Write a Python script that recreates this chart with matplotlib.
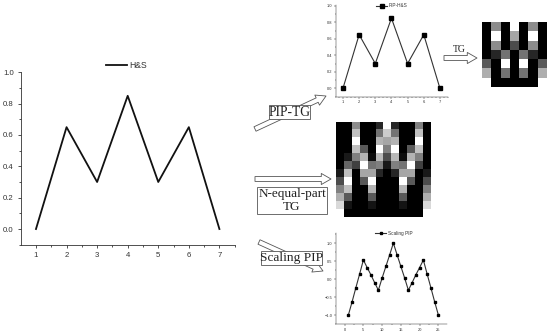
import matplotlib
matplotlib.use('Agg')
import matplotlib.pyplot as plt
from matplotlib.patches import FancyArrowPatch, Rectangle
from matplotlib.ticker import MultipleLocator

plt.rcParams['font.family'] = ['Liberation Sans', 'DejaVu Sans']

hs_x = [1, 2, 3, 4, 5, 6, 7]
hs_y = [0.0, 0.65, 0.3, 0.85, 0.3, 0.65, 0.0]
pip_y = [0.0, 0.65, 0.3, 0.85, 0.3, 0.65, 0.0]

scaling_x = list(range(1, 26))
scaling_y = [-1.0, -0.63, -0.24, 0.14, 0.53, 0.32, 0.12, -0.1, -0.31, 0.03, 0.35, 0.67, 1.0,
             0.67, 0.35, 0.03, -0.31, -0.1, 0.12, 0.32, 0.53, 0.14, -0.24, -0.63, -1.0]

# gray levels, 0 black and 1 white
tg_small = [
    [0, 0.55, 0, 1, 0, 0.55, 0],
    [0, 1, 0, 0.65, 0, 1, 0],
    [0, 0.55, 0, 0.3, 0, 0.55, 0],
    [0, 0.15, 0.45, 0, 0.45, 0.15, 0],
    [0.35, 0, 1, 0, 1, 0, 0.35],
    [0.68, 0, 0.45, 0, 0.45, 0, 0.68],
    [1, 0, 0, 0, 0, 0, 1],
]
tg_large = [
    [0, 0, 0.55, 0, 0, 0.15, 1, 0.15, 0, 0, 0.5, 0],
    [0, 0, 0.75, 0, 0, 0.45, 0.8, 0.45, 0, 0, 0.75, 0],
    [0, 0, 1, 0, 0, 0.7, 0.65, 0.7, 0, 0, 1, 0],
    [0, 0, 0.75, 0.35, 0, 1, 0.5, 1, 0, 0.35, 0.75, 0],
    [0, 0.1, 0.5, 0.7, 0.05, 0.72, 0.3, 0.72, 0.05, 0.7, 0.5, 0],
    [0, 0.4, 0.25, 1, 0.45, 0.5, 0.1, 0.5, 0.45, 1, 0.25, 0],
    [0.1, 0.75, 0, 0.65, 0.65, 0.15, 0, 0.15, 0.65, 0.65, 0, 0.1],
    [0.3, 1, 0, 0.35, 1, 0, 0, 0, 1, 0.35, 0, 0.3],
    [0.5, 0.75, 0, 0, 0.7, 0, 0, 0, 0.7, 0, 0, 0.5],
    [0.68, 0.35, 0, 0, 0.35, 0, 0, 0, 0.35, 0, 0, 0.68],
    [0.85, 0.08, 0, 0, 0.08, 0, 0, 0, 0.08, 0, 0, 0.85],
    [1, 0, 0, 0, 0, 0, 0, 0, 0, 0, 0, 1],
]

W = 550
H = 335
INK = '#333333'

fig = plt.figure(figsize=(W / 100, H / 100), dpi=100)


def px_axes(left, top, right, bottom):
    return fig.add_axes([left / W, 1 - bottom / H, (right - left) / W, (bottom - top) / H])


def style_chart(ax, xlim, ylim, tick_size, tick_len, lw, pad):
    ax.set_xlim(xlim)
    ax.set_ylim(ylim)
    ax.spines['top'].set_visible(False)
    ax.spines['right'].set_visible(False)
    ax.spines['left'].set_linewidth(lw)
    ax.spines['left'].set_color(INK)
    ax.spines['bottom'].set_linewidth(lw)
    ax.spines['bottom'].set_color(INK)
    ax.tick_params(which='major', labelsize=tick_size, length=tick_len, width=lw, color=INK,
                   labelcolor=INK, pad=pad)
    ax.tick_params(which='minor', length=tick_len * 0.6, width=lw, color=INK)


# main chart
ax = px_axes(21, 72.3, 235, 245)
ax.plot(hs_x, hs_y, color='#111111', lw=1.3, label='H&S')
style_chart(ax, (0.51, 7.51), (-0.102, 1.0), 5.6, 2.2, 0.6, 3)
ax.xaxis.set_major_locator(MultipleLocator(1))
ax.xaxis.set_minor_locator(MultipleLocator(0.5))
ax.yaxis.set_major_locator(MultipleLocator(0.2))
ax.yaxis.set_minor_locator(MultipleLocator(0.1))
ax.legend(loc='center', bbox_to_anchor=(0.495, 1.04), frameon=False, fontsize=6.2, handlelength=2.4,
          handletextpad=0.3, borderpad=0, labelcolor=INK)

# small chart at the top
ax = px_axes(335.7, 5, 448, 96.7)
ax.plot(hs_x, pip_y, color='#333333', lw=0.8, marker='s', ms=3.1, mfc='black', mec='black', label='PIP-H&S')
style_chart(ax, (0.55, 7.5), (-0.102, 1.01), 2.9, 1.2, 0.35, 1.5)
ax.xaxis.set_major_locator(MultipleLocator(1))
ax.xaxis.set_minor_locator(MultipleLocator(0.25))
ax.yaxis.set_major_locator(MultipleLocator(0.2))
ax.yaxis.set_minor_locator(MultipleLocator(0.1))
ax.legend(loc='center', bbox_to_anchor=(0.5, 0.99), frameon=False, fontsize=3.4, handlelength=2.4,
          handletextpad=0.3, borderpad=0, labelcolor=INK)

# small chart at the bottom
ax = px_axes(336, 233, 447, 324)
ax.plot(scaling_x, scaling_y, color='#333333', lw=0.8, marker='s', ms=2, mfc='black', mec='black',
        label='Scaling PIP')
style_chart(ax, (-2.3, 27.3), (-1.25, 1.28), 2.9, 1.2, 0.35, 1.5)
ax.xaxis.set_major_locator(MultipleLocator(5))
ax.xaxis.set_minor_locator(MultipleLocator(2.5))
ax.yaxis.set_major_locator(MultipleLocator(0.5))
ax.yaxis.set_minor_locator(MultipleLocator(0.25))
ax.legend(loc='center', bbox_to_anchor=(0.52, 1.0), frameon=False, fontsize=3.4, handlelength=2.4,
          handletextpad=0.3, borderpad=0, labelcolor=INK)

# gray level images
ax = px_axes(482, 22, 547, 87)
ax.imshow(tg_small, cmap='gray', vmin=0, vmax=1, aspect='auto', interpolation='nearest')
ax.axis('off')

ax = px_axes(336, 122, 431, 217)
ax.imshow(tg_large, cmap='gray', vmin=0, vmax=1, aspect='auto', interpolation='nearest')
ax.axis('off')

# overlay in pixel coordinates for arrows and boxes
top = fig.add_axes([0, 0, 1, 1], zorder=5)
top.set_xlim(0, W)
top.set_ylim(H, 0)
top.axis('off')
top.patch.set_alpha(0)


def hollow_arrow(start, end):
    top.add_patch(FancyArrowPatch(start, end, arrowstyle='simple,head_width=8,head_length=7,tail_width=3.5',
                                  mutation_scale=1, shrinkA=0, shrinkB=0, fc='white', ec='#555555',
                                  lw=0.6, zorder=2))


def label_box(left, y_top, right, y_bottom, text, size):
    top.add_patch(Rectangle((left, y_top), right - left, y_bottom - y_top, fc='white', ec='#555555',
                            lw=0.6, zorder=3))
    top.text((left + right) / 2, (y_top + y_bottom) / 2, text, family='Liberation Serif', fontsize=size,
             ha='center', va='center', color='#222222', zorder=4, linespacing=1.05)


hollow_arrow((255, 129), (326, 96))
label_box(268.7, 105, 310, 119, 'PIP-TG', 9.8)

hollow_arrow((255, 179), (331, 179))
label_box(257, 187, 327, 214, 'N-equal-part\nTG', 9.5)

hollow_arrow((259, 242), (323, 271))
label_box(261, 251, 322, 265, 'Scaling PIP', 9.6)

hollow_arrow((444, 58), (477, 58))
top.text(459, 50, 'TG', family='Liberation Serif', fontsize=7, ha='center', va='center', color='#222222')

fig.savefig('out.png', dpi=100)
